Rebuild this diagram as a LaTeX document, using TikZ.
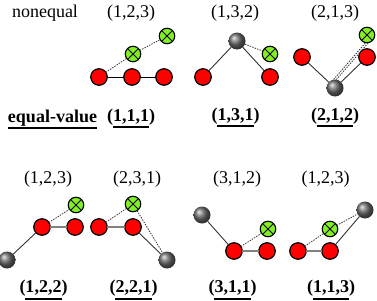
\documentclass[tikz,border=0pt]{standalone}
\usepackage{fontspec}
\setmainfont{Liberation Serif}
\usetikzlibrary{calc}
\definecolor{gfill}{RGB}{128,240,32}
\definecolor{lk}{RGB}{50,50,50}
\tikzset{
  rd/.style={circle, draw=black, line width=1.2pt, fill=red, minimum size=16.5pt, inner sep=0pt, outer sep=0pt},
  gn/.style={circle, draw=black, line width=1.1pt, fill=gfill, minimum size=15.5pt, inner sep=0pt, outer sep=0pt,
    path picture={\draw[line width=1pt] (path picture bounding box.north east) -- (path picture bounding box.south west)
      (path picture bounding box.north west) -- (path picture bounding box.south east);}},
  gy/.style={circle, shading=ball, ball color=gray!85!black, minimum size=17pt, inner sep=0pt, outer sep=0pt},
  sl/.style={draw=lk, line width=0.9pt},
  rr/.style={draw=gray, line width=1.8pt},
  rk/.style={draw=black, line width=1pt},
  dl/.style={draw=lk, line width=0.8pt, dash pattern=on 1.4pt off 1.2pt},
  lbl/.style={inner sep=0pt, font=\fontsize{18}{20}\selectfont},
  blbl/.style={inner sep=0pt, font=\fontsize{18}{20}\selectfont\bfseries},
  ul/.style={draw=black, line width=1.6pt},
  ulb/.style={draw=black, line width=2.2pt}
}
\begin{document}
\begin{tikzpicture}[x=1pt, y=-1pt]
\useasboundingbox (0,0) rectangle (377,300);
% labels top row
\node[lbl] (tn) at (45,13) {nonequal};
\node[lbl] (t1) at (131,13) {(1,2,3)};
\node[lbl] (t2) at (235,13) {(1,3,2)};
\node[lbl] (t3) at (335,13) {(2,1,3)};
% panel A
\node[rd] (a1) at (99,77) {};
\node[rd] (a2) at (132,77) {};
\node[rd] (a3) at (164,77) {};
\node[gn] (ag1) at (133,54) {};
\node[gn] (ag2) at (167,36) {};
\draw[rk] (a1) -- (a2);
\draw[rk] (a2) -- (a3);
\draw[dl] (a1) -- (ag1);
\draw[dl] (ag1) -- (ag2);
% panel B
\node[gy] (bc) at (237,41) {};
\node[rd] (b1) at (203,77) {};
\node[rd] (b2) at (270,77) {};
\node[gn] (bg) at (270,54) {};
\draw[sl] (bc) -- (b1);
\draw[sl] (bc) -- (b2);
\draw[dl] (bc) -- (bg);
% panel C
\node[rd] (c1) at (302,57) {};
\node[rd] (c2) at (367,57) {};
\node[gy] (cc) at (335,88) {};
\node[gn] (cg) at (367,35) {};
\draw[sl] (c1) -- (cc);
\draw[sl] (cc) -- (c2);
\draw[dl] ([xshift=-1.4pt]cc.north) -- ([xshift=-1.4pt]cg.south);
\draw[dl] ([xshift=1.4pt]cc.north) -- ([xshift=1.4pt]cg.south);
% middle labels
\node[blbl] (eq) at (52.5,118) {equal-value};
\node[blbl] (m1) at (131,117) {(1,1,1)};
\node[blbl] (m2) at (235.5,116) {(1,3,1)};
\node[blbl] (m3) at (335,116) {(2,1,2)};
\draw[ul] ([yshift=-1.5pt]eq.south west) -- ([yshift=-1.5pt]eq.south east);
\draw[ul] ([xshift=6pt,yshift=-1.5pt]m1.south west) -- ([xshift=-6pt,yshift=-1.5pt]m1.south east);
\draw[ul] ([xshift=6pt,yshift=-1.5pt]m2.south west) -- ([xshift=-6pt,yshift=-1.5pt]m2.south east);
\draw[ul] ([xshift=6pt,yshift=-1.5pt]m3.south west) -- ([xshift=-6pt,yshift=-1.5pt]m3.south east);
% bottom top labels
\node[lbl] (u1) at (48,179) {(1,2,3)};
\node[lbl] (u2) at (137,179) {(2,3,1)};
\node[lbl] (u3) at (237,179) {(3,1,2)};
\node[lbl] (u4) at (325.5,179) {(1,2,3)};
% panel D
\node[gn] (dg) at (76,205) {};
\node[rd] (d1) at (42,227) {};
\node[rd] (d2) at (75,227) {};
\node[gy] (dc) at (7,260) {};
\draw[sl] (dc) -- (d1);
\draw[rr] (d1) -- (d2);
\draw[dl] (d1) -- (dg);
% panel E
\node[rd] (e1) at (99,227) {};
\node[rd] (e2) at (133,227) {};
\node[gn] (eg) at (133,204) {};
\node[gy] (ec) at (167,260) {};
\draw[dl] (e1) -- (eg);
\draw[rr] (e1) -- (e2);
\draw[sl] (e2) -- (ec);
\draw[dl] (eg) -- (ec);
% panel F
\node[gy] (fc) at (202,215) {};
\node[rd] (f1) at (234,251) {};
\node[rd] (f2) at (267,251) {};
\node[gn] (fg) at (268,229) {};
\draw[sl] (fc) -- (f1);
\draw[rr] (f1) -- (f2);
\draw[dl] (f1) -- (fg);
% panel G
\node[rd] (h1) at (298,251) {};
\node[rd] (h2) at (330,251) {};
\node[gn] (hg) at (330,229) {};
\node[gy] (hc) at (365,210) {};
\draw[rr] (h1) -- (h2);
\draw[dl] (h1) -- (hg);
\draw[dl] (hg) -- (hc);
\draw[sl] (h2) -- (hc);
% bottom labels
\node[blbl] (v1) at (43.5,288) {(1,2,2)};
\node[blbl] (v2) at (133.5,288) {(2,2,1)};
\node[blbl] (v3) at (232.5,288) {(3,1,1)};
\node[blbl] (v4) at (331,288) {(1,1,3)};
\draw[ulb] ([xshift=6pt,yshift=-3pt]v1.south west) -- ([xshift=-6pt,yshift=-3pt]v1.south east);
\draw[ulb] ([xshift=6pt,yshift=-3pt]v2.south west) -- ([xshift=-6pt,yshift=-3pt]v2.south east);
\draw[ulb] ([xshift=6pt,yshift=-3pt]v3.south west) -- ([xshift=-6pt,yshift=-3pt]v3.south east);
\draw[ulb] ([xshift=6pt,yshift=-3pt]v4.south west) -- ([xshift=-6pt,yshift=-3pt]v4.south east);
\end{tikzpicture}
\end{document}
